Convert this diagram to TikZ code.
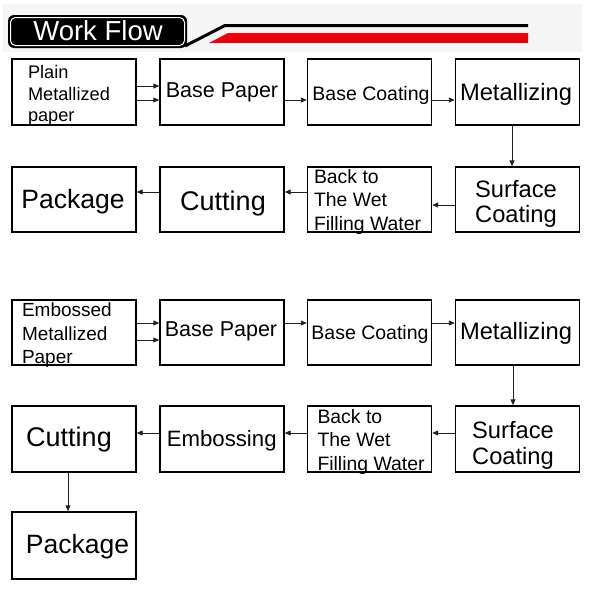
\documentclass[tikz,border=0pt]{standalone}
\usepackage{fontspec}
\setmainfont{Liberation Sans}
\usetikzlibrary{arrows.meta,calc}
\definecolor{hdrbg}{RGB}{245,245,245}
\definecolor{hdrred}{RGB}{232,4,12}
\definecolor{arr}{RGB}{35,35,35}
\newcommand{\fs}[1]{\fontsize{#1}{#1}\selectfont}
\tikzset{
  flowbox/.style={draw=black,line width=1.4pt,minimum width=124pt,minimum height=66pt,inner sep=0pt},
  txt/.style={inner sep=0pt,outer sep=0pt,anchor=base},
  txtl/.style={inner sep=0pt,outer sep=0pt,anchor=base west},
  flow/.style={draw=arr,line width=0.9pt,-{Triangle[length=6pt,width=5pt]}}
}
\begin{document}
\begin{tikzpicture}[x=1pt,y=-1pt]
\useasboundingbox (0,0) rectangle (591,589);
\fill[white] (0,0) rectangle (591,589);
% header
\fill[hdrbg] (3,4) rectangle (582,52);
\fill[black,rounded corners=6pt] (8,15) rectangle (187,48);
\draw[white,line width=1pt,rounded corners=5pt] (10.5,17.5) rectangle (184.5,45.5);
\node[text=white,inner sep=0pt] (title) at (98,31) {\fs{27.5}Work Flow};
\draw[black,line width=3pt] (185,46) -- (225,25.5) -- (528,25.5);
\fill[hdrred] (209,43) -- (228,33) -- (528,33) -- (528,43) -- cycle;

% row 1
\node[flowbox] (p1) at (74,92) {};
\node[flowbox] (p2) at (222,92) {};
\node[flowbox] (p3) at (369.5,92) {};
\node[flowbox] (p4) at (517.5,92) {};
% row 2
\node[flowbox,minimum height=65pt] (p5) at (517.5,199.5) {};
\node[flowbox,minimum height=65pt] (p6) at (369.5,199.5) {};
\node[flowbox,minimum height=65pt] (p7) at (222,199.5) {};
\node[flowbox,minimum height=65pt] (p8) at (74,199.5) {};
% row 3
\node[flowbox,minimum height=65pt] (e1) at (74,332.5) {};
\node[flowbox,minimum height=65pt] (e2) at (222,332.5) {};
\node[flowbox,minimum height=65pt] (e3) at (369.5,332.5) {};
\node[flowbox,minimum height=65pt] (e4) at (517.5,332.5) {};
% row 4
\node[flowbox] (e5) at (517.5,439) {};
\node[flowbox] (e6) at (369.5,439) {};
\node[flowbox] (e7) at (222,439) {};
\node[flowbox] (e8) at (74,439) {};
% row 5
\node[flowbox,minimum height=67pt] (e9) at (74,545.5) {};

% texts row 1
\node[txtl] (tp1a) at (28,78) {\fs{18.2}Plain};
\node[txtl] (tp1b) at (28,100) {\fs{18.2}Metallized};
\node[txtl] (tp1c) at (28,121.5) {\fs{18.2}paper};
\node[txt] (tp2) at (222,97) {\fs{21.5}Base Paper};
\node[txt] (tp3) at (371,100) {\fs{19.5}Base Coating};
\node[txt] (tp4) at (516,100.5) {\fs{23.7}Metallizing};
% texts row 2
\node[txt] (tp5a) at (516,197) {\fs{23.7}Surface};
\node[txt] (tp5b) at (516,222) {\fs{23.7}Coating};
\node[txtl] (tp6a) at (314,183) {\fs{19.4}Back to};
\node[txtl] (tp6b) at (314,206.5) {\fs{19.4}The Wet};
\node[txtl] (tp6c) at (314,230) {\fs{19.4}Filling Water};
\node[txt] (tp7) at (223,210.5) {\fs{27}Cutting};
\node[txt] (tp8) at (73,208) {\fs{26.5}Package};
% texts row 3
\node[txtl] (te1a) at (22,316.5) {\fs{19}Embossed};
\node[txtl] (te1b) at (22,340) {\fs{19}Metallized};
\node[txtl] (te1c) at (22,363) {\fs{19}Paper};
\node[txt] (te2) at (221,336.7) {\fs{21.5}Base Paper};
\node[txt] (te3) at (370,339) {\fs{19.5}Base Coating};
\node[txt] (te4) at (516,339) {\fs{23.7}Metallizing};
% texts row 4
\node[txt] (te5a) at (513,438) {\fs{23.7}Surface};
\node[txt] (te5b) at (513,464) {\fs{23.7}Coating};
\node[txtl] (te6a) at (317.5,423.3) {\fs{19.4}Back to};
\node[txtl] (te6b) at (317.5,446.7) {\fs{19.4}The Wet};
\node[txtl] (te6c) at (317.5,470) {\fs{19.4}Filling Water};
\node[txt] (te7) at (221.7,446.7) {\fs{22.2}Embossing};
\node[txt] (te8) at (69,446.7) {\fs{27}Cutting};
% row 5
\node[txt] (te9) at (77.5,553) {\fs{26.5}Package};

% connectors, first flow
\draw[flow] (p1.east |- 0,86) -- (p2.west |- 0,86);
\draw[flow] (p1.east |- 0,100) -- (p2.west |- 0,100);
\draw[flow] (p2.east |- 0,100) -- (p3.west |- 0,100);
\draw[flow] (p3.east |- 0,100) -- (p4.west |- 0,100);
\draw[flow] (p4.south -| 512,0) -- (p5.north -| 512,0);
\draw[flow] (p5.west |- 0,205) -- (p6.east |- 0,205);
\draw[flow] (p6.west |- 0,192) -- (p7.east |- 0,192);
\draw[flow] (p7.west |- 0,192) -- (p8.east |- 0,192);
% connectors, second flow
\draw[flow] (e1.east |- 0,323) -- (e2.west |- 0,323);
\draw[flow] (e1.east |- 0,340) -- (e2.west |- 0,340);
\draw[flow] (e2.east |- 0,323) -- (e3.west |- 0,323);
\draw[flow] (e3.east |- 0,323) -- (e4.west |- 0,323);
\draw[flow] (e4.south -| 513,0) -- (e5.north -| 513,0);
\draw[flow] (e5.west |- 0,433) -- (e6.east |- 0,433);
\draw[flow] (e6.west |- 0,433) -- (e7.east |- 0,433);
\draw[flow] (e7.west |- 0,433) -- (e8.east |- 0,433);
\draw[flow] (e8.south -| 68,0) -- (e9.north -| 68,0);
\end{tikzpicture}
\end{document}
